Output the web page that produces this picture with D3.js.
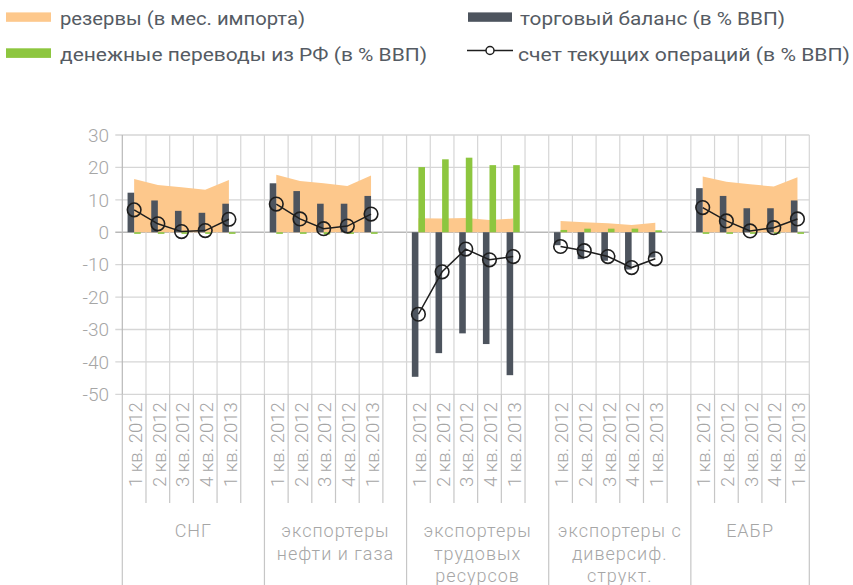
<!DOCTYPE html>
<html><head><meta charset="utf-8">
<script src="https://cdn.jsdelivr.net/npm/d3@7"></script>
<style>
html,body{margin:0;padding:0;background:#fff;overflow:hidden;}
svg{display:block;}
</style></head>
<body>
<svg id="chart" width="853" height="585"></svg>
<script>
// ---- data ----
const groupLabels = [["СНГ"], ["экспортеры", "нефти и газа"], ["экспортеры", "трудовых", "ресурсов"], ["экспортеры с", "диверсиф.", "структ."], ["ЕАБР"]];
const quarters = ["1 кв. 2012", "2 кв. 2012", "3 кв. 2012", "4 кв. 2012", "1 кв. 2013"];
const yTicks = [30, 20, 10, 0, -10, -20, -30, -40, -50];
// резервы (в мес. импорта)
const reserves = [[16.4,14.6,13.9,13.1,16.1],[17.7,15.8,15.1,14.3,17.5],[4.3,4.2,4.4,3.8,4.2],[3.5,3.1,2.8,2.2,2.9],[17.2,15.6,14.8,14.1,17.0]];
// торговый баланс (в % ВВП)
const trade = [[12.2,9.8,6.6,6.0,8.8],[15.1,12.7,8.8,8.8,11.2],[-44.6,-37.3,-31.2,-34.5,-44.1],[-4.0,-8.3,-8.8,-11.5,-7.8],[13.6,11.2,7.4,7.4,9.8]];
// денежные переводы из РФ (в % ВВП)
const remit = [[-0.5,-0.5,-0.5,-0.5,-0.5],[-0.5,-0.5,-0.7,-0.5,-0.5],[20.1,22.5,23.0,20.7,20.7],[0.7,1.1,1.1,1.1,0.6],[-0.5,-0.5,-0.5,-0.5,-0.5]];
// счет текущих операций (в % ВВП)
const current = [[6.9,2.6,0.2,0.5,4.0],[8.7,4.1,1.1,1.9,5.6],[-25.3,-12.2,-5.2,-8.5,-7.5],[-4.4,-5.7,-7.5,-10.9,-8.2],[7.6,3.5,0.4,1.4,4.1]];
const legendItems = ["резервы (в мес. импорта)", "торговый баланс (в % ВВП)", "денежные переводы из РФ (в % ВВП)", "счет текущих операций (в % ВВП)"];

// ---- colors ----
const C_RES = "#FDC88C", C_TRADE = "#4D545E", C_REM = "#8DC63F", C_LINE = "#1e1e1e";
const C_GRID = "#d6d6d6", C_AXIS = "#b8b8b8", C_TXT = "#a6a6a6", C_LEG = "#555b63";
const FONT = "Roboto, 'DejaVu Sans', sans-serif";

// slots: 5 quarters per group, a blank slot after each group except last
const slots = [];
groupLabels.forEach((g, gi) => {
  quarters.forEach((q, qi) => slots.push({id: gi + "_" + qi, gi, qi, label: q}));
  if (gi < groupLabels.length - 1) slots.push({id: gi + "_blank", gi, qi: -1, label: ""});
});

const L = 122.3, R = 809.3, T = 135, B = 394.3;
const x = d3.scaleBand().domain(slots.map(s => s.id)).range([L, R]).paddingInner(0).paddingOuter(0);
const bw = x.bandwidth();
const sub = d3.scaleBand().domain(["trade", "remit"]).range([0, bw]).paddingInner(0).paddingOuter(0.8);
const y = d3.scaleLinear().domain([-50, 30]).range([B, T]);
const cx = id => x(id) + bw / 2;

const svg = d3.select("#chart");

// gridlines horizontal
svg.append("g").selectAll("line").data(yTicks).join("line")
  .attr("x1", L - 7).attr("x2", R)
  .attr("y1", d => y(d)).attr("y2", d => y(d))
  .attr("stroke", d => d === 0 ? C_AXIS : C_GRID).attr("stroke-width", 1.3);

// vertical gridlines in plot (band boundaries)
const bounds = slots.map(s => x(s.id)).concat([R]);
svg.append("g").selectAll("line").data(bounds).join("line")
  .attr("x1", d => d).attr("x2", d => d).attr("y1", T).attr("y2", B)
  .attr("stroke", (d, i) => i === 0 ? C_AXIS : C_GRID).attr("stroke-width", 1.2);

// category label tick lines (below plot)
const catLines = slots.map(s => ({x: x(s.id), long: s.qi === 0}));
catLines.push({x: R, long: true});
svg.append("g").selectAll("line").data(catLines).join("line")
  .attr("x1", d => d.x).attr("x2", d => d.x).attr("y1", B).attr("y2", d => d.long ? 585 : 503)
  .attr("stroke", "#c6c6c6").attr("stroke-width", 1.2);

// y labels
svg.append("g").selectAll("text").data(yTicks).join("text")
  .attr("x", 109).attr("y", d => y(d)).attr("dy", "0.36em")
  .attr("text-anchor", "end").attr("font-family", FONT).attr("font-weight", 300)
  .attr("font-size", 19).attr("fill", C_TXT).text(d => d);

// reserves area per group
const area = d3.area().x(d => cx(d.id)).y0(y(0)).y1(d => y(d.v));
reserves.forEach((arr, gi) => {
  const pts = arr.map((v, qi) => ({id: gi + "_" + qi, v}));
  svg.append("path").datum(pts).attr("d", area).attr("fill", C_RES);
});

// bars
const barData = [];
trade.forEach((arr, gi) => arr.forEach((v, qi) => barData.push({id: gi + "_" + qi, k: "trade", v})));
remit.forEach((arr, gi) => arr.forEach((v, qi) => barData.push({id: gi + "_" + qi, k: "remit", v})));
svg.append("g").selectAll("rect").data(barData).join("rect")
  .attr("x", d => x(d.id) + sub(d.k))
  .attr("width", sub.bandwidth())
  .attr("y", d => Math.min(y(d.v), y(0)))
  .attr("height", d => Math.abs(y(d.v) - y(0)))
  .attr("fill", d => d.k === "trade" ? C_TRADE : C_REM);

// current account lines
const line = d3.line().x(d => cx(d.id)).y(d => y(d.v));
current.forEach((arr, gi) => {
  const pts = arr.map((v, qi) => ({id: gi + "_" + qi, v}));
  svg.append("path").datum(pts).attr("d", line).attr("fill", "none")
    .attr("stroke", C_LINE).attr("stroke-width", 1.5);
  svg.append("g").selectAll("circle").data(pts).join("circle")
    .attr("cx", d => cx(d.id)).attr("cy", d => y(d.v)).attr("r", 6.8)
    .attr("fill", "none").attr("stroke", C_LINE).attr("stroke-width", 1.6);
});

// category labels (rotated)
svg.append("g").selectAll("text").data(slots.filter(s => s.qi >= 0)).join("text")
  .attr("transform", d => `translate(${cx(d.id) + 1},${B + 8}) rotate(-90)`)
  .attr("text-anchor", "end").attr("dy", "0.36em")
  .attr("font-family", FONT).attr("font-weight", 300).attr("font-size", 18.5)
  .attr("fill", C_TXT).text(d => d.label);

// group labels
groupLabels.forEach((lines, gi) => {
  const first = x(gi + "_0");
  const last = gi < groupLabels.length - 1 ? x(gi + "_blank") + bw : R;
  const mid = (first + last) / 2;
  const t = svg.append("text").attr("text-anchor", "middle")
    .attr("font-family", FONT).attr("font-weight", 300).attr("font-size", 18)
    .attr("letter-spacing", 1).attr("fill", C_TXT);
  lines.forEach((ln, li) => {
    t.append("tspan").attr("x", mid).attr("y", 537 + li * 22.5).text(ln);
  });
});

// legend
const leg = svg.append("g").attr("font-family", FONT).attr("font-weight", 400).attr("font-size", 18.5).attr("fill", C_LEG);
leg.append("rect").attr("x", 6).attr("y", 12.4).attr("width", 45).attr("height", 9.4).attr("fill", C_RES);
leg.append("text").attr("x", 60).attr("y", 25).attr("textLength", 245).attr("lengthAdjust", "spacingAndGlyphs").text(legendItems[0]);
leg.append("rect").attr("x", 468).attr("y", 12.4).attr("width", 44).attr("height", 9.4).attr("fill", C_TRADE);
leg.append("text").attr("x", 520).attr("y", 25).attr("textLength", 265).attr("lengthAdjust", "spacingAndGlyphs").text(legendItems[1]);
leg.append("rect").attr("x", 6).attr("y", 48.3).attr("width", 45).attr("height", 9.6).attr("fill", C_REM);
leg.append("text").attr("x", 60).attr("y", 60.5).attr("textLength", 367).attr("lengthAdjust", "spacingAndGlyphs").text(legendItems[2]);
leg.append("line").attr("x1", 467).attr("x2", 513).attr("y1", 50.5).attr("y2", 50.5).attr("stroke", C_LINE).attr("stroke-width", 1.5);
leg.append("circle").attr("cx", 490).attr("cy", 50.5).attr("r", 4).attr("fill", "#fff").attr("stroke", C_LINE).attr("stroke-width", 1.5);
leg.append("text").attr("x", 518).attr("y", 60.5).attr("textLength", 332).attr("lengthAdjust", "spacingAndGlyphs").text(legendItems[3]);
</script>
</body></html>
